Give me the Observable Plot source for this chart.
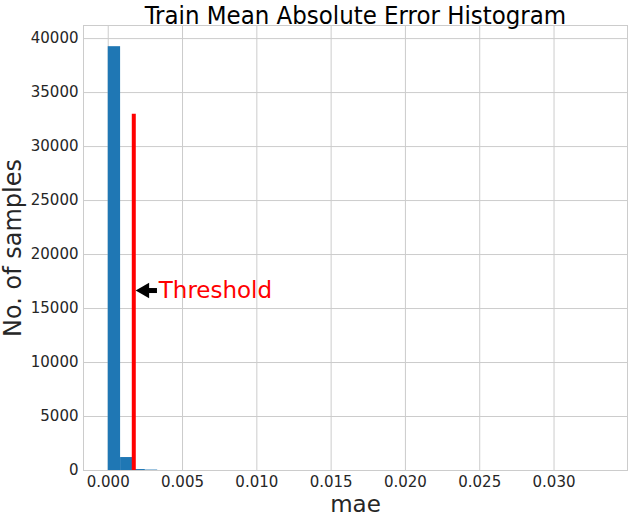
<!DOCTYPE html>
<html>
<head>
<meta charset="utf-8">
<script src="https://cdn.jsdelivr.net/npm/d3@7"></script>
<script src="https://cdn.jsdelivr.net/npm/@observablehq/plot@0.6"></script>
<style>
  html, body { margin: 0; padding: 0; background: #fff; }
  #chart svg { display: block; }
</style>
</head>
<body>
<div id="chart"></div>
<script>
// Histogram bins (mae) — 40 equal bins over [0, 0.03328]
const binLo  = [0.0000, 0.000832, 0.001664, 0.002496];
const binHi  = [0.000832, 0.001664, 0.002496, 0.003328];
const counts = [39250, 1200, 90, 40];

// Threshold line and annotation
const threshold = 0.00172;
const thresholdTop = 33000;
const arrowHeadCenter = 0.00245;
const arrowShaftEnd = 0.00230;
const arrowTail = 0.00328;
const arrowY = 16667;
const labelX = 0.0034;

const xTicks = [0, 0.005, 0.010, 0.015, 0.020, 0.025, 0.030];
const yTicks = [0, 5000, 10000, 15000, 20000, 25000, 30000, 35000, 40000];

const title = "Train Mean Absolute Error Histogram";
const xLabel = "mae";
const yLabel = "No. of samples";
const annotation = "Threshold";

const bins = binLo.map((lo, i) => ({lo, hi: binHi[i], count: counts[i]}));

const chart = Plot.plot({
  width: 630,
  height: 516,
  marginLeft: 83,
  marginRight: 3,
  marginTop: 25,
  marginBottom: 46,
  style: {fontFamily: "DejaVu Sans", fontSize: "15px", color: "#262626", background: "#fff"},
  x: {domain: [-0.001664, 0.034944]},
  y: {domain: [0, 41212]},
  marks: [
    Plot.gridX(xTicks, {stroke: "#cccccc", strokeOpacity: 1, strokeWidth: 1}),
    Plot.gridY(yTicks, {stroke: "#cccccc", strokeOpacity: 1, strokeWidth: 1}),
    Plot.frame({stroke: "#cccccc", strokeWidth: 1}),
    Plot.axisX(xTicks, {tickSize: 0, tickPadding: 6, tickFormat: d3.format(".3f"), label: null, fontSize: 15, fill: "#262626"}),
    Plot.axisY(yTicks, {tickSize: 0, tickPadding: 5, tickFormat: d3.format("d"), label: null, fontSize: 15, fill: "#262626"}),
    Plot.rectY(bins, {x1: "lo", x2: "hi", y: "count", fill: "#1f77b4", inset: 0}),
    Plot.ruleX([threshold], {y1: 0, y2: thresholdTop, stroke: "red", strokeWidth: 4}),
    Plot.link([{x1: arrowTail, x2: arrowShaftEnd, y: arrowY}], {
      x1: "x1", x2: "x2", y1: "y", y2: "y", stroke: "black", strokeWidth: 5
    }),
    Plot.dot([{x: arrowHeadCenter, y: arrowY}], {
      x: d => d.x, y: d => d.y, symbol: "triangle", r: 5.8, rotate: -90, fill: "black", stroke: "none"
    }),
    Plot.text([annotation], {x: labelX, y: arrowY, text: d => d, textAnchor: "start", fill: "red", fontSize: 23}),
    Plot.text([title], {frameAnchor: "top", dy: -2, lineAnchor: "bottom", fontSize: 25.5, fill: "black",
      fontFamily: "DejaVu Sans Condensed, DejaVu Sans", fontStretch: "condensed"}),
    Plot.text([xLabel], {frameAnchor: "bottom", dy: 34, lineAnchor: "middle", fontSize: 23, fill: "#262626"}),
    Plot.text([yLabel], {frameAnchor: "left", dx: -70, rotate: -90, textAnchor: "middle", lineAnchor: "middle", fontSize: 24, fill: "#262626"})
  ]
});
document.getElementById("chart").appendChild(chart);
</script>
</body>
</html>
